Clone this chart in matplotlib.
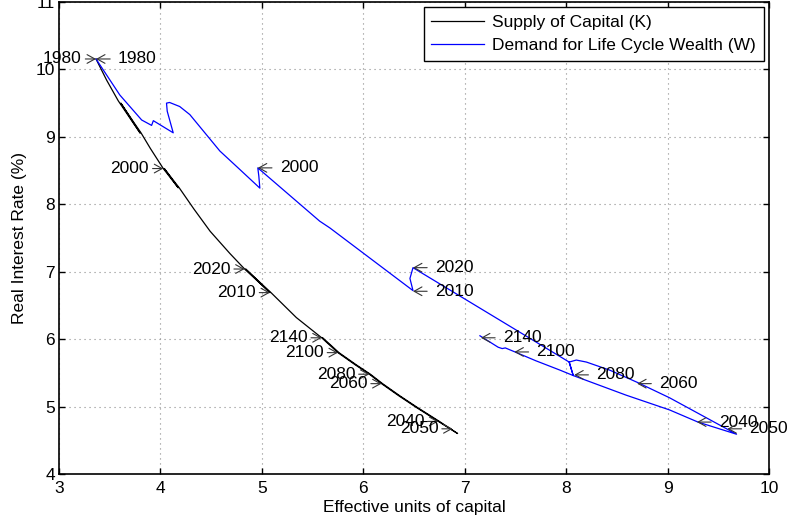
import matplotlib.pyplot as plt

plt.rcParams['font.family'] = ['Liberation Sans', 'DejaVu Sans']

# supply of capital (K) path
k_x = [3.365, 3.47, 3.584, 3.732, 3.80, 3.61, 3.742, 3.81, 3.90, 4.028, 4.175,
       4.038, 4.185, 4.33, 4.49, 4.685, 4.83, 5.08, 4.84, 5.09, 5.34, 5.59, 5.75,
       5.92, 6.06, 6.18, 6.35, 6.52, 6.74, 6.93, 6.75, 6.53, 6.36, 6.19, 6.07,
       5.93, 5.76, 5.60]
k_y = [10.155, 9.84, 9.535, 9.205, 9.056, 9.50, 9.205, 9.056, 8.83, 8.53, 8.245,
       8.53, 8.245, 7.93, 7.60, 7.27, 7.04, 6.69, 7.04, 6.69, 6.32, 6.02, 5.80,
       5.62, 5.48, 5.34, 5.16, 4.99, 4.78, 4.60, 4.78, 4.99, 5.16, 5.34, 5.48,
       5.62, 5.80, 6.02]

# demand for life cycle wealth (W) path
w_x = [3.365, 3.60, 3.815, 3.913, 3.93, 4.126, 4.067, 4.06, 4.09, 4.19, 4.29,
       4.586, 4.78, 4.98, 4.97, 4.96, 5.57, 5.67, 6.49, 6.46, 6.49, 8.03, 8.07,
       8.59, 9.02, 9.30, 9.68, 9.02, 8.70, 8.43, 8.20, 8.10, 8.03, 8.05, 8.07,
       7.94, 7.70, 7.48, 7.40, 7.37, 7.33, 7.15]
w_y = [10.155, 9.62, 9.25, 9.17, 9.24, 9.06, 9.38, 9.50, 9.51, 9.45, 9.33,
       8.79, 8.52, 8.24, 8.42, 8.54, 7.75, 7.65, 6.72, 6.90, 7.06, 5.66, 5.46,
       5.17, 4.95, 4.77, 4.59, 5.13, 5.36, 5.54, 5.66, 5.69, 5.66, 5.56, 5.46,
       5.54, 5.68, 5.82, 5.87, 5.86, 5.88, 6.05]

# year labels
k_years = ['1980', '2000', '2020', '2010', '2140', '2100', '2080', '2060', '2040', '2050']
k_lab_x = [3.365, 4.028, 4.83, 5.08, 5.59, 5.75, 6.06, 6.18, 6.74, 6.88]
k_lab_y = [10.155, 8.53, 7.04, 6.69, 6.02, 5.80, 5.48, 5.34, 4.78, 4.67]

w_years = ['1980', '2000', '2020', '2010', '2140', '2100', '2080', '2060', '2040', '2050']
w_lab_x = [3.365, 4.96, 6.49, 6.49, 7.16, 7.49, 8.08, 8.70, 9.29, 9.59]
w_lab_y = [10.155, 8.54, 7.06, 6.71, 6.02, 5.81, 5.47, 5.34, 4.77, 4.67]

fs = 12.5

fig = plt.figure(figsize=(7.9, 5.22), dpi=100)
ax = fig.add_axes([59/790, 48/522, 710/790, 472/522])

ax.plot(k_x, k_y, color='k', lw=0.9, label='Supply of Capital (K)')
ax.plot(w_x, w_y, color='b', lw=0.9, label='Demand for Life Cycle Wealth (W)')

arrow = dict(arrowstyle='->,head_length=0.45,head_width=0.25', color='0.2', lw=0.8,
             shrinkB=0)
for t, x, y in zip(k_years, k_lab_x, k_lab_y):
    ax.annotate(t, xy=(x, y), xytext=(-10.2, 0), textcoords='offset points',
                ha='right', va='center', fontsize=fs,
                arrowprops=dict(arrow, shrinkA=0.5))
for t, x, y in zip(w_years, w_lab_x, w_lab_y):
    ax.annotate(t, xy=(x, y), xytext=(15.8, 0), textcoords='offset points',
                ha='left', va='center', fontsize=fs,
                arrowprops=dict(arrow, shrinkA=3.6))

ax.set_xlim(3, 10)
ax.set_ylim(4, 11)
ax.set_xticks(range(3, 11))
ax.set_yticks(range(4, 12))
ax.grid(True, color='0.55', linestyle=(0, (1, 3.5)), lw=0.8)
ax.tick_params(direction='in', length=4.5, width=1, top=True, right=True,
               labelsize=fs)
ax.tick_params(axis='x', pad=5)
ax.tick_params(axis='y', pad=3)
for s in ax.spines.values():
    s.set_linewidth(1.2)

ax.set_xlabel('Effective units of capital', fontsize=fs, labelpad=3)
ax.set_ylabel('Real Interest Rate (%)', fontsize=fs, labelpad=6)

leg = ax.legend(loc='upper right', fontsize=fs, fancybox=False, edgecolor='k',
                framealpha=1, borderaxespad=0.3, borderpad=0.45,
                labelspacing=0.45, handlelength=3.0, handletextpad=0.5)
leg.get_frame().set_linewidth(1.0)

fig.savefig('out.png', dpi=100)
